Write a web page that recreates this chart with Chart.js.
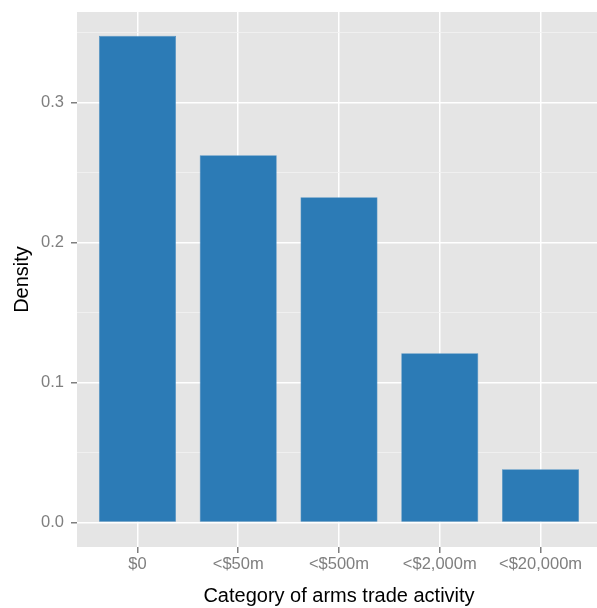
<!DOCTYPE html>
<html lang="en">
<head>
    <meta charset="UTF-8">
    <title>Category of arms trade activity</title>
    <style>
        html, body { margin: 0; padding: 0; background: #fff; overflow: hidden; }
        #wrap { width: 601px; height: 608px; }
    </style>
</head>
<body>
    <div id="wrap"><canvas id="chart" width="601" height="608"></canvas></div>
    <script src="https://cdn.jsdelivr.net/npm/chart.js@4/dist/chart.umd.min.js"></script>
    <script>
        const categories = ['$0', '<$50m', '<$500m', '<$2,000m', '<$20,000m'];
        const density = [0.348, 0.2625, 0.2325, 0.121, 0.038];
        const yTicks = [0, 0.05, 0.1, 0.15, 0.2, 0.25, 0.3, 0.35];
        const yLabels = ['0.0', '', '0.1', '', '0.2', '', '0.3', ''];

        const isMajor = v => Math.abs(v * 10 - Math.round(v * 10)) < 1e-6;
        const font = 'Liberation Sans, Arial, sans-serif';

        // grey panel behind the plot, ggplot style
        const panelBg = {
            id: 'panelBg',
            beforeDraw(chart) {
                const { ctx, chartArea: a } = chart;
                ctx.save();
                ctx.fillStyle = '#e5e5e5';
                ctx.fillRect(a.left, a.top, a.right - a.left, a.bottom - a.top);
                ctx.restore();
            }
        };

        const ctx = document.getElementById('chart').getContext('2d');
        new Chart(ctx, {
            type: 'bar',
            data: {
                datasets: [{
                    label: 'Density',
                    data: density.map((v, i) => ({ x: i, y: v })),
                    backgroundColor: '#2c7bb6',
                    borderColor: '#4a8ec2',
                    borderWidth: 0.6,
                    barPercentage: 0.765,
                    categoryPercentage: 1
                }]
            },
            plugins: [panelBg],
            options: {
                responsive: false,
                animation: false,
                layout: { padding: { top: 12, left: 0, right: 0, bottom: 0 } },
                plugins: { legend: { display: false }, tooltip: { enabled: false } },
                scales: {
                    x: {
                        type: 'linear',
                        offset: false,
                        min: -0.6,
                        max: 4.6,
                        afterFit: s => { s.height = 61; s.paddingLeft = 0; s.paddingRight = 0; },
                        afterBuildTicks: s => { s.ticks = categories.map((_, i) => ({ value: i })); },
                        border: { display: false },
                        grid: { offset: false, color: '#ffffff', lineWidth: 1.5, tickColor: '#7f7f7f', tickLength: 6 },
                        ticks: {
                            color: '#7f7f7f',
                            font: { family: font, size: 16.5 },
                            padding: 2,
                            maxRotation: 0,
                            autoSkip: false,
                            callback: v => categories[v]
                        },
                        title: {
                            display: true,
                            text: 'Category of arms trade activity',
                            color: '#000',
                            font: { family: font, size: 20 },
                            padding: { top: 0, bottom: 0 }
                        }
                    },
                    y: {
                        min: -0.0175,
                        max: 0.365,
                        afterFit: s => { s.width = 77; s.paddingTop = 0; s.paddingBottom = 0; },
                        afterBuildTicks: s => { s.ticks = yTicks.map(v => ({ value: v })); },
                        border: { display: false },
                        grid: {
                            color: c => isMajor(c.tick.value) ? '#ffffff' : '#f2f2f2',
                            lineWidth: c => isMajor(c.tick.value) ? 1.5 : 0.8,
                            tickColor: c => isMajor(c.tick.value) ? '#7f7f7f' : 'rgba(0,0,0,0)',
                            tickLength: 6
                        },
                        ticks: {
                            color: '#7f7f7f',
                            font: { family: font, size: 16.5 },
                            padding: 7,
                            callback: v => yLabels[yTicks.indexOf(v)] ?? ''
                        },
                        title: {
                            display: true,
                            text: 'Density',
                            color: '#000',
                            font: { family: font, size: 20 },
                            padding: { top: 10, bottom: 0 }
                        }
                    }
                }
            }
        });
    </script>
</body>
</html>
